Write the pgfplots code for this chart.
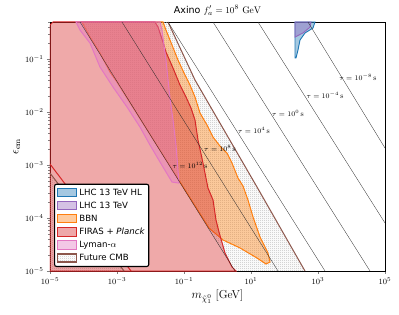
\documentclass[border=0pt]{standalone}
\usepackage{fontspec}
\usepackage{pgfplots}
\pgfplotsset{compat=1.18}
\usetikzlibrary{patterns}
\newfontfamily\dejavu{DejaVu Sans}
\definecolor{tabblue}{RGB}{31,119,180}
\definecolor{tabpurple}{RGB}{148,103,189}
\definecolor{taborange}{RGB}{255,127,14}
\definecolor{tabred}{RGB}{214,39,40}
\definecolor{tabpink}{RGB}{227,119,194}
\definecolor{tabbrown}{RGB}{140,86,75}
\pgfdeclarepatternformonly{finedots}{\pgfpointorigin}{\pgfpoint{2pt}{2pt}}{\pgfpoint{2pt}{2pt}}%
  {\pgfpathcircle{\pgfpoint{0.5pt}{0.5pt}}{0.42pt}\pgfpathcircle{\pgfpoint{1.5pt}{1.5pt}}{0.42pt}\pgfusepath{fill}}
\pgfplotsset{myarea/.style={legend image code/.code={\draw[sharp corners,##1] (0pt,-4.2pt) rectangle (19pt,4.2pt);}}}
\begin{document}
\begin{tikzpicture}
\useasboundingbox (-50pt,-44pt) rectangle (349pt,271pt);
\begin{axis}[
  at={(0,0)}, anchor=south west,
  scale only axis, width=335pt, height=249pt,
  xmode=log, ymode=log,
  xmin=1e-5, xmax=1e5, ymin=1e-5, ymax=0.5,
  xtick={1e-5,1e-3,1e-1,1e1,1e3,1e5},
  xminorticks=false,
  tick align=outside, tick pos=left,
  major tick length=3pt, minor tick length=1.8pt,
  axis line style={line width=0.7pt},
  tick label style={font=\fontsize{8.5}{9}\selectfont},
  title={{\dejavu Axino} $f'_a = 10^8\ \mathrm{GeV}$},
  title style={font=\fontsize{9.5}{10}\selectfont, yshift=-3pt},
  xlabel={$m_{\tilde{\chi}_1^0}$ [GeV]},
  ylabel={$\epsilon_{\mathrm{em}}$},
  label style={font=\fontsize{11.5}{12}\selectfont},
  xlabel style={yshift=1pt},
  ylabel style={yshift=-2pt},
  legend cell align=left,
  legend style={at={(rel axis cs:0.012,0.016)}, anchor=south west,
    font=\dejavu\fontsize{8.6}{9.5}\selectfont, draw=black, line width=1.1pt,
    rounded corners=2pt, fill=white, inner xsep=2pt, inner ysep=2.5pt, row sep=1.2pt},
]
% Future CMB (hatched)
\addplot[pattern=finedots, pattern color=gray!60, draw=none, forget plot]
  coordinates {(7.87e-5,0.5) (0.0333,0.5) (0.213,0.0402) (15.1,3.85e-4) (409,1e-5) (3.33,1e-5)} -- cycle;
\addplot[pattern=finedots, pattern color=gray!60, draw=none, forget plot]
  coordinates {(1e-5,7.06e-4) (1.62e-3,1e-5) (1e-5,1e-5)} -- cycle;
% BBN
\addplot[fill=taborange, fill opacity=0.4, draw=taborange, line width=1pt, forget plot]
  coordinates {(9.02e-5,0.5) (1.56e-4,0.26) (3.11e-4,0.1297) (6.18e-4,0.0569) (1e-3,0.0368)
  (0.557,6.47e-5) (1.459,3.85e-5) (4.7,2.72e-5) (15.1,1.76e-5) (28.1,1.355e-5) (36.9,1.48e-5)
  (32.1,2.19e-5) (18.6,4.39e-5) (11.5,1.045e-4) (8.13,2.19e-4) (5.77,4.02e-4) (4.09,5.69e-4)
  (2.71,1.09e-3) (1.923,1.68e-3) (1.188,2.28e-3) (0.735,3.37e-3) (0.486,5.69e-3) (0.301,9.57e-3)
  (0.213,0.0192) (0.151,0.0323) (0.107,0.0499) (0.0662,0.0957) (0.0439,0.1837) (0.029,0.352)
  (0.0236,0.5)} -- cycle;
% FIRAS + Planck
\addplot[fill=tabred, fill opacity=0.4, draw=tabred, line width=1pt, forget plot]
  coordinates {(1e-5,0.4385) (1.23e-5,0.5) (0.0136,0.5) (0.0168,0.402) (0.0236,0.2095)
  (0.029,0.1355) (0.047,0.0676) (0.076,0.0323) (0.115,0.0192) (0.162,0.01189) (0.213,0.00706)
  (0.262,0.00296) (0.369,0.00109) (0.52,3.68e-4) (0.735,2.19e-4) (0.902,9.16e-5) (1.109,5.45e-5)
  (1.675,2.19e-5) (2.71,1.19e-5) (3.56,1e-5) (1e-5,1e-5)} -- cycle;
\addplot[draw=tabred, line width=1pt, forget plot] coordinates {(1e-5,1.045e-3) (2.62e-3,1e-5)};
% Lyman-alpha
\addplot[fill=tabpink, fill opacity=0.4, draw=tabpink, line width=1pt, forget plot]
  coordinates {(5.97e-5,0.5) (7.87e-5,0.352) (1.56e-4,0.2005) (3.11e-4,0.0706) (7.61e-4,0.0296)
  (1.99e-3,0.01242) (4.86e-3,0.00521) (9.66e-3,0.00238) (0.0192,0.00114) (0.0439,4.77e-4)
  (0.071,4.57e-4) (0.0662,8.05e-4) (0.0577,0.00238) (0.047,0.00706) (0.0382,0.01837)
  (0.029,0.0957) (0.022,0.352) (0.0192,0.5)} -- cycle;
% LHC 13 TeV HL
\addplot[fill=tabblue, fill opacity=0.4, draw=tabblue, line width=0.9pt, forget plot]
  coordinates {(206,0.5) (813,0.5) (710,0.385) (409,0.31) (290,0.228) (253,0.148) (220,0.1045) (206,0.1045)} -- cycle;
% LHC 13 TeV
\addplot[fill=tabpurple, fill opacity=0.4, draw=tabpurple, line width=0.9pt, forget plot]
  coordinates {(206,0.5) (618,0.5) (577,0.40) (356,0.31) (236,0.272) (206,0.26)} -- cycle;
% Future CMB edges
\addplot[draw=tabbrown, line width=1pt, forget plot] coordinates {(0.0333,0.5) (0.213,0.0402) (15.1,3.85e-4) (409,1e-5)};
\addplot[draw=tabbrown, line width=1pt, forget plot] coordinates {(1e-5,7.06e-4) (1.62e-3,1e-5)};
% lifetime lines
\addplot[black!85, line width=0.3pt, forget plot] coordinates {(502,0.5) (1e5,2.09e-3)};
\addplot[black!85, line width=0.3pt, forget plot] coordinates {(16.2,0.5) (1e5,8.05e-5)};
\addplot[black!85, line width=0.3pt, forget plot] coordinates {(0.735,0.5) (3.57e4,1e-5)};
\addplot[black!85, line width=0.3pt, forget plot] coordinates {(0.0333,0.5) (1.62e3,1e-5)};
\addplot[black!85, line width=0.3pt, forget plot] coordinates {(1.41e-3,0.5) (64.0,1e-5)};
\addplot[black!85, line width=0.3pt, forget plot] coordinates {(7.87e-5,0.5) (3.33,1e-5)};
\node[font=\fontsize{7.5}{8}\selectfont] at (axis cs:1.56e4,0.0457) {$\tau=10^{-8}\,\mathrm{s}$};
\node[font=\fontsize{7.5}{8}\selectfont] at (axis cs:1.62e3,0.0209) {$\tau=10^{-4}\,\mathrm{s}$};
\node[font=\fontsize{7.5}{8}\selectfont] at (axis cs:127,0.00957) {$\tau=10^{0}\,\mathrm{s}$};
\node[font=\fontsize{7.5}{8}\selectfont] at (axis cs:12.3,0.00457) {$\tau=10^{4}\,\mathrm{s}$};
\node[font=\fontsize{7.5}{8}\selectfont] at (axis cs:1.19,0.00209) {$\tau=10^{8}\,\mathrm{s}$};
\node[font=\fontsize{7.5}{8}\selectfont] at (axis cs:0.151,1e-3) {$\tau=10^{12}\,\mathrm{s}$};
% legend
\addlegendimage{myarea, fill=tabblue, fill opacity=0.4, draw=tabblue, line width=1pt}
\addlegendentry{LHC 13 TeV HL}
\addlegendimage{myarea, fill=tabpurple, fill opacity=0.4, draw=tabpurple, line width=1pt}
\addlegendentry{LHC 13 TeV}
\addlegendimage{myarea, fill=taborange, fill opacity=0.4, draw=taborange, line width=1pt}
\addlegendentry{BBN}
\addlegendimage{myarea, fill=tabred, fill opacity=0.4, draw=tabred, line width=1pt}
\addlegendentry{FIRAS + \textit{Planck}}
\addlegendimage{myarea, fill=tabpink, fill opacity=0.4, draw=tabpink, line width=1pt}
\addlegendentry{Lyman-$\alpha$}
\addlegendimage{myarea, pattern=finedots, pattern color=gray!60, draw=tabbrown, line width=1.8pt}
\addlegendentry{Future CMB}
\end{axis}
\end{tikzpicture}
\end{document}
